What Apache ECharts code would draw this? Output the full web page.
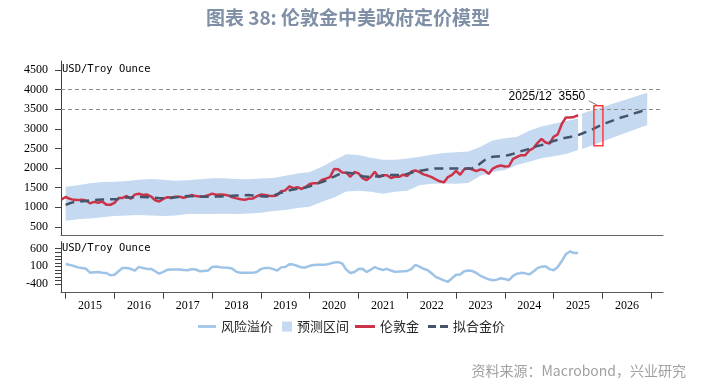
<!DOCTYPE html>
<html><head><meta charset="utf-8">
<script src="https://cdn.jsdelivr.net/npm/echarts@6/dist/echarts.min.js"></script>
<style>html,body{margin:0;padding:0;background:#fff}#c{width:712px;height:387px}</style>
</head><body><div id="c"></div>
<script>
// ---------- DATA ----------
const title = '图表 38: 伦敦金中美政府定价模型';
const source = '资料来源：Macrobond，兴业研究';
const unitLabel = 'USD/Troy Ounce';
const yearLabels = [2015,2016,2017,2018,2019,2020,2021,2022,2023,2024,2025,2026];
const upperTicks = [500,1000,1500,2000,2500,3000,3500,4000,4500];
const lowerTickLabels = [600,100,-400];
const lowerTicks = [-400,-300,-200,-100,0,100,200,300,400,500,600];
const refLines = [3500,4000];

// London gold, monthly from 2014-12
const goldStart = '2014-12';
const gold = [1199,
1260,1214,1187,1180,1190,1171,1098,1135,1115,1142,1065,1062,
1111,1234,1237,1285,1215,1320,1342,1310,1322,1272,1178,1146,
1212,1255,1245,1266,1266,1242,1269,1311,1283,1270,1275,1303,
1345,1318,1325,1315,1300,1250,1224,1200,1187,1215,1220,1279,
1321,1313,1292,1284,1305,1409,1427,1529,1485,1511,1464,1515,
1589,1609,1608,1694,1730,1768,1975,1968,1887,1879,1776,1898,
1863,1743,1691,1768,1903,1770,1814,1814,1743,1783,1776,1829,
1797,1909,1937,1896,1837,1807,1766,1711,1660,1633,1768,1824,
1928,1827,1969,1990,1962,1919,1965,1940,1849,1983,2036,2063,
2039,2044,2230,2286,2327,2326,2447,2503,2634,2744,2650,2625,
2798,2858,3124,3288,3289,3303,3345];

// fitted price, monthly from 2015-01
const fitStart = '2015-01';
const fit = [
1060,1100,1130,1140,1150,1160,1170,1180,1190,1195,1200,1200,
1200,1210,1230,1245,1250,1255,1257,1260,1255,1250,1240,1230,
1225,1225,1235,1250,1265,1280,1283,1280,1275,1270,1265,1265,
1265,1270,1275,1280,1285,1290,1295,1300,1305,1309,1300,1290,
1280,1270,1270,1290,1330,1370,1400,1430,1450,1470,1480,1500,
1530,1570,1607,1640,1680,1735,1780,1830,1870,1877,1870,1850,
1820,1790,1775,1775,1780,1790,1800,1810,1819,1819,1820,1830,
1850,1880,1910,1930,1945,1960,1975,1990,1990,1990,1990,1990,
1990,1990,1990,1990,1995,2030,2120,2200,2245,2286,2295,2300,
2310,2330,2360,2400,2430,2457,2490,2530,2560,2584,2620,2650,
2690,2720,2750,2770,2790,2810,2839,2880,2920,2960,3010,3060,
3110,3150,3190,3230,3270,3300,3330,3360,3400,3430,3465,3500];

// risk premium, monthly from 2015-01
const premStart = '2015-01';
const premium = [
168,140,110,70,55,30,-80,-70,-60,-80,-90,-154,
-140,-40,55,55,30,-21,83,50,27,27,-40,-110,
-60,0,7,7,7,-5,-13,20,10,-41,-30,-21,
80,95,75,65,58,30,-58,-80,-86,-86,-86,-60,
20,55,55,20,-21,70,83,160,150,110,70,70,
115,140,148,148,148,176,210,220,180,7,-90,-60,
27,30,-60,0,80,30,-5,27,-20,-58,-50,-41,
-30,20,140,90,30,-10,-100,-199,-250,-300,-340,-240,
-140,-130,-40,-20,-35,-90,-170,-220,-270,-295,-280,-240,
-260,-296,-170,-110,-86,-100,-130,-50,50,90,100,20,
-10,80,250,450,520,480,478];

// forecast band, segment 1 quarterly from 2015-01
const band1Start = '2015-01';
const band1Upper = [1520,1560,1610,1640, 1650,1670,1700,1720, 1700,1675,1690,1710,
 1735,1735,1720,1710, 1730,1745,1800,1860, 1900,2030,2200,2350, 2329,2260,2210,2210,
 2240,2286,2340,2380, 2400,2420,2541,2700, 2760,2800,2950,3060, 3130,3200,3265];
const band1Lower = [653,690,714,740, 773,790,798,790, 773,790,824,824,
 824,830,824,840, 857,900,926,980, 1010,1138,1250,1400, 1420,1393,1340,1393,
 1418,1560,1600,1607, 1600,1620,1800,1900, 1946,2074,2158,2250, 2300,2355,2457];
// segment 2
const band2Dates = ['2025-08','2026-12'];
const band2Upper = [3393,3918];
const band2Lower = [2483,3094];

// annotation
const noteText = '2025/12  3550';
const noteBox = {date:'2025-12', lo:2566, hi:3587};

// ---------- HELPERS ----------
const ym = s => { const [y,m] = s.split('-').map(Number); return y + (m-1)/12; };
const monthX = (start, i, step=1) => { const [y,m] = start.split('-').map(Number); const t = y*12 + (m-1) + i*step; return Math.floor(t/12) + (t%12)/12; };
const pairs = (start, arr, step=1) => arr.map((v,i)=>[monthX(start,i,step), v]);

const bandSegs = [
  {x: band1Upper.map((_,i)=>monthX(band1Start,i,3)), hi: band1Upper, lo: band1Lower},
  {x: band2Dates.map(ym), hi: band2Upper, lo: band2Lower}
];

const X_MIN = 2014.904, X_MAX = 2027.24;
const serif = 'Liberation Serif';
const axisCol = '#404040';
const bandColor = '#c5d9f1';
const redCol = '#cc3349';
const fitCol = '#44546a';
const premCol = '#9dc3e6';
const boxX = ym(noteBox.date);

const lineIcon = 'path://M0,0h20v3h-20z';
const dashIcon = 'path://M0,0h8v3h-8zM12,0h8v3h-8z';
const legendText = {fontSize:13, fontFamily:'Noto Sans CJK SC', color:'#262626'};

const chart = echarts.init(document.getElementById('c'), null, {renderer:'canvas'});
chart.setOption({
  animation: false,
  backgroundColor: '#fff',
  graphic: [
    {type:'text', x:348, y:18, style:{text:title, fontSize:19, fontWeight:'bold', fontFamily:'Noto Sans CJK SC', fill:'#7f8fa6', align:'center', verticalAlign:'middle'}},
    {type:'text', x:686, y:371, style:{text:source, fontSize:14, fontFamily:'Noto Sans CJK SC', fill:'#a0a0a0', align:'right', verticalAlign:'middle'}},
    {type:'text', x:62, y:69, z:10, style:{text:unitLabel, fontSize:10.5, fontFamily:'DejaVu Sans Mono', fill:'#000', align:'left', verticalAlign:'middle'}},
    {type:'text', x:62, y:248, z:10, style:{text:unitLabel, fontSize:10.5, fontFamily:'DejaVu Sans Mono', fill:'#000', align:'left', verticalAlign:'middle'}}
  ],
  legend: [
    {data:[{name:'风险溢价', icon:lineIcon}], left:193, top:315, itemWidth:18, itemHeight:12, itemGap:9, textStyle:legendText},
    {data:[{name:'预测区间', icon:'rect'}], left:277, top:315, itemWidth:10, itemHeight:10, itemGap:9, textStyle:legendText},
    {data:[{name:'伦敦金', icon:lineIcon},{name:'拟合金价', icon:dashIcon}], left:350, top:315, itemWidth:20, itemHeight:12, itemGap:9, textStyle:legendText}
  ],
  grid: [
    {left:61, right:49, top:61, height:174},
    {left:61, right:49, top:241.7, height:51}
  ],
  xAxis: [
    {gridIndex:0, type:'value', min:X_MIN, max:X_MAX, splitLine:{show:false},
     axisLine:{show:true, onZero:false, lineStyle:{color:'#666', width:1}},
     axisTick:{show:false}, axisLabel:{show:false}},
    {gridIndex:1, type:'value', min:X_MIN, max:X_MAX, splitLine:{show:false},
     axisLine:{show:true, onZero:false, lineStyle:{color:'#595959', width:1}},
     axisTick:{show:true, customValues: yearLabels.concat([2027]), length:6, lineStyle:{color:axisCol}},
     axisLabel:{customValues: yearLabels.map(y=>y+0.5), formatter: v=>String(Math.floor(v)), margin:7,
       fontSize:12, fontFamily:serif, color:'#000'}}
  ],
  yAxis: [
    {gridIndex:0, type:'value', min:290, max:4730, splitLine:{show:false},
     axisLine:{show:true, onZero:false, lineStyle:{color:axisCol}},
     axisTick:{show:true, customValues: upperTicks, length:6, lineStyle:{color:axisCol}},
     axisLabel:{customValues: upperTicks, formatter: v=>String(v), margin:13, fontSize:12, fontFamily:serif, color:'#000'}},
    {gridIndex:1, type:'value', min:-650, max:800, splitLine:{show:false},
     axisLine:{show:true, onZero:false, lineStyle:{color:axisCol}},
     axisTick:{show:true, customValues: lowerTicks, length:6, lineStyle:{color:axisCol}},
     axisLabel:{customValues: lowerTickLabels, formatter: v=>String(v), margin:13, fontSize:12, fontFamily:serif, color:'#000'}}
  ],
  series: [
    {name:'预测区间', type:'custom', xAxisIndex:0, yAxisIndex:0, z:1, silent:true,
     itemStyle:{color:bandColor},
     encode:{x:0, y:1},
     data: bandSegs.map(s=>[s.x[0], s.lo[0]]),
     renderItem: (params, api) => {
       const seg = bandSegs[params.dataIndex];
       const top = seg.x.map((x,i)=>api.coord([x, seg.hi[i]]));
       const bot = seg.x.map((x,i)=>api.coord([x, seg.lo[i]])).reverse();
       return {type:'polygon', shape:{points: top.concat(bot)}, style:{fill:bandColor}};
     }},
    {name:'伦敦金', type:'line', xAxisIndex:0, yAxisIndex:0, z:3, symbol:'none',
     lineStyle:{color:redCol, width:2.5}, itemStyle:{color:redCol},
     data: pairs(goldStart, gold)},
    {name:'拟合金价', type:'line', xAxisIndex:0, yAxisIndex:0, z:4, symbol:'none',
     lineStyle:{color:fitCol, width:2.5, type:[9,6]}, itemStyle:{color:fitCol},
     data: pairs(fitStart, fit),
     markLine:{silent:true, symbol:'none', animation:false,
       data: refLines.map(v=>({yAxis:v, lineStyle:{color:'#8c8c8c', width:1, type:[4,3]}, label:{show:false}}))
         .concat([[{coord:[2025.72, 3714], lineStyle:{color:'#777', width:1, type:'solid'}, label:{show:false}},
                   {coord:[boxX, noteBox.hi]}]])},
     markPoint:{silent:true, animation:false,
       data:[{coord:[2024.86, 3816], symbol:'circle', symbolSize:1, itemStyle:{color:'rgba(0,0,0,0)'},
         label:{show:true, position:'inside', formatter:noteText, color:'#000', fontSize:12, fontFamily:'Liberation Sans'}}]}},
    {name:'box', type:'custom', xAxisIndex:0, yAxisIndex:0, z:6, silent:true,
     encode:{x:0, y:1},
     data:[[boxX, noteBox.lo, noteBox.hi]],
     renderItem: (params, api) => {
       const p1 = api.coord([api.value(0), api.value(2)]);
       const p2 = api.coord([api.value(0), api.value(1)]);
       return {type:'rect', shape:{x:p1[0]-4.5, y:p1[1], width:9, height:p2[1]-p1[1]},
               style:{fill:'none', stroke:'#ff3b3b', lineWidth:1.5}};
     }},
    {name:'风险溢价', type:'line', xAxisIndex:1, yAxisIndex:1, z:3, symbol:'none',
     lineStyle:{color:premCol, width:2.5}, itemStyle:{color:premCol},
     data: pairs(premStart, premium)}
  ]
});
</script></body></html>
